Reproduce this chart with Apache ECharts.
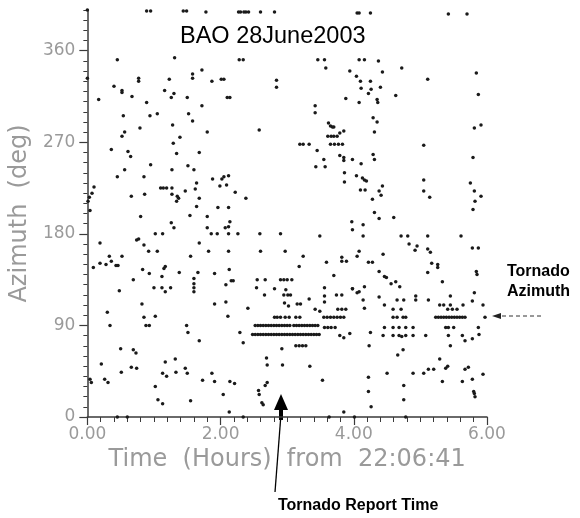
<!DOCTYPE html>
<html>
<head>
<meta charset="utf-8">
<script src="https://cdn.jsdelivr.net/npm/echarts@6/dist/echarts.min.js"></script>
<style>
html,body{margin:0;padding:0;background:#fff;}
#chart{width:580px;height:518px;}
</style>
</head>
<body>
<div id="chart"></div>
<script>
// ---- Data: [time (hours from 22:06:41), azimuth (deg)] ----
const topRow = [[0.0,400],[0.89,399],[0.95,399],[1.44,399],[1.49,399],[1.78,398],[2.27,398],[2.30,398],[2.35,398],[2.38,398],[2.42,398],[2.60,398],[2.81,398],[4.05,397],[4.08,397],[4.25,397],[5.42,396],[5.70,396]];

const earlyUpper = [[2.28,351],[2.34,351],[0.45,351],[1.31,353],[0.0,333],[0.77,333],[0.77,330],[1.23,332],[1.58,337],[1.58,333],
[1.72,341],[1.87,330],[2.01,332],[2.05,332],[2.84,331],[2.84,324],[0.40,325],[0.52,321],[0.52,319],[0.67,315],[1.16,321],[1.30,318],[1.26,314],[1.50,314],[2.10,314],[2.14,314],
[0.17,312],[0.89,309],[1.72,306],[0.54,296],[0.94,296],[1.05,298],[1.52,298],[1.58,291],[1.28,287],[0.79,284],[1.80,280],[0.52,276],[0.56,280],[2.58,282],
[1.29,269],[1.39,275],[0.36,263],[0.61,261],[0.65,256],[1.34,259],[1.68,260],[0.95,248],[1.51,247],[1.60,243],[1.27,243],[0.56,243],[0.45,236],[0.85,236],[1.88,234],[2.02,234],[2.05,236],[2.12,237],
[1.64,230],[1.99,227],[2.09,228],[0.10,226],[1.10,225],[1.14,225],[1.19,225],[1.27,225],[1.47,222],[1.62,224],[2.22,221],[0.03,216],[0.01,212],[0.07,220],[0.66,217],[0.86,219],[1.27,219],[1.35,217],[1.34,212],[1.37,215],[1.68,215],[2.38,215],
[0.04,203],[1.64,207],[1.96,206],[2.12,206],[0.80,197],[1.54,198],[1.80,197],[2.14,192],[2.12,187],[1.26,191],[1.30,186],[1.80,186],[2.07,186],[1.02,180],[1.13,180],[0.74,174],[0.77,175],[0.85,169],[0.19,171],[1.68,171],
[1.86,180],[1.95,180],[2.12,180],[2.26,180],[2.59,180],[2.90,180],[0.33,158],[0.52,158],[0.92,163],[1.05,163],[1.55,158],[1.82,163],[2.12,163],[2.60,163],[2.97,163]];

const earlyLower = [[0.09,147],[0.19,151],[0.28,150],[0.36,153],[0.43,149],[0.46,149],[0.48,124],[0.69,135],[0.83,145],[0.93,141],[1.12,138],[1.17,148],[1.15,146],[1.00,127],[1.12,127],[1.17,123],[1.25,127],[1.38,142],
[1.60,136],[1.60,131],[1.60,127],[1.60,123],[1.66,142],[1.91,141],[2.08,130],[2.13,145],[2.16,134],[2.19,134],[0.82,111],[0.30,103],[1.91,111],[2.08,113],[2.41,107],[0.85,98],[1.02,99],[0.88,90],[0.93,90],[0.34,90],[2.11,99],
[1.49,90],[1.51,83],[2.29,83],[1.68,75],[2.34,73],[0.50,67],[0.69,66],[0.73,63],[0.21,52],[0.51,44],[0.66,49],[0.74,48],[1.17,54],[1.13,43],[1.19,40],[1.32,57],[1.33,44],[1.47,48],[1.50,43],[1.87,43],[1.91,35],[1.73,36],
[2.14,35],[2.21,33],[0.04,37],[0.06,34],[0.26,37],[0.31,34],[1.02,30],[2.04,22],[1.06,17],[1.13,13],[1.55,16],[2.13,5],[0.45,0],[0.60,0],[2.34,0]];

const clusterMid = [[2.55,135],[2.67,135],[2.90,135],[2.95,135],[3.00,135],[3.07,135],[2.54,127],[2.66,120],[2.81,126],[2.98,125],[2.95,120],[3.01,120],[3.05,120],[2.96,112],[3.02,109],
[3.15,111],[3.20,111],[3.33,116],[3.42,106],[3.49,104],[3.56,127],[3.56,119],[3.56,113],[3.74,120],[3.82,120],[3.76,106],[3.82,106],[3.88,106],[3.98,126],
[2.81,98],[2.85,98],[2.90,98],[2.97,98],[3.03,98],[3.13,98],[3.19,98],[3.55,98],[3.60,98],[3.65,98],[3.70,98],[3.75,98],[3.80,98],[3.85,98],
[3.56,88],[3.61,88],[3.66,88],[3.72,88],[3.79,80],[3.85,78],[3.94,82],[3.13,70],[3.18,70],[3.23,70],[3.28,70],[2.92,67],[2.69,58],[2.70,51],[2.93,51],[2.67,31],[2.70,34],[2.57,26],[2.58,22],[2.62,14],[2.64,12]];

const band90 = [2.52,2.56,2.60,2.64,2.68,2.72,2.76,2.80,2.84,2.88,2.92,2.96,3.00,3.04,3.10,3.14,3.18,3.22,3.26,3.30,3.34,3.38,3.42,3.46];
const band81 = [2.48,2.52,2.56,2.60,2.64,2.68,2.72,2.76,2.80,2.84,2.88,2.92,2.96,3.00,3.04,3.08,3.12,3.16,3.20,3.24,3.28,3.32,3.36,3.40,3.44,3.48];
const band98late = [5.23,5.27,5.31,5.35,5.39,5.43,5.47,5.51,5.55,5.59,5.63,5.67];

const lateLower = [[3.18,148],[3.70,139],[3.59,152],[3.82,153],[3.89,153],[4.22,152],[4.28,152],[4.38,143],[4.46,138],[4.49,137],[4.56,131],[4.63,133],[4.69,128],[5.17,151],[5.26,150],[5.26,147],[5.11,142],[5.33,133],[5.84,143],[5.85,140],
[3.98,126],[4.05,122],[4.08,123],[4.16,128],[4.14,115],[4.38,118],[4.16,107],[4.46,110],[4.65,115],[4.75,115],[4.59,106],[4.71,106],[4.93,119],[4.93,115],[5.12,115],[5.45,119],[5.29,110],[5.35,110],[5.45,110],[5.41,106],[5.48,106],[5.55,106],
[5.81,122],[5.78,114],[5.94,110],[5.64,110],[4.59,98],[4.65,98],[4.74,98],[4.78,98],[4.46,88],[4.59,88],[4.68,88],[4.78,88],[4.89,88],[5.38,88],[5.42,88],[5.50,88],[5.87,88],
[4.25,83],[4.44,80],[4.59,80],[4.68,80],[4.72,79],[4.78,80],[4.89,80],[5.08,80],[5.42,80],[5.63,80],[5.67,75],[5.78,77],[5.88,81],[4.23,70],[4.74,66],[4.66,61],[5.45,70],[5.97,98],[6.02,99],
[3.34,50],[3.53,36],[4.22,39],[4.50,43],[4.75,31],[4.89,43],[5.05,43],[5.12,47],[5.20,47],[5.29,57],[5.38,48],[5.41,50],[5.33,35],[5.63,35],[5.67,47],[5.72,49],[5.78,37],[5.94,42],[5.80,25],[5.81,23],[5.82,20],
[4.22,25],[4.26,10],[4.75,17],[3.85,5],[3.63,0],[4.01,0],[4.78,0]];

const lateUpper = [[3.46,351],[3.56,351],[3.58,343],[4.08,351],[4.16,351],[4.37,350],[4.72,343],[5.84,338],[3.94,340],[4.04,335],[4.10,330],[4.25,330],[4.43,339],[4.11,323],[4.26,322],[4.40,324],[4.22,318],[4.63,316],[5.11,332],[5.87,317],
[3.88,313],[4.08,309],[4.35,312],[4.36,309],[3.42,306],[3.42,299],[4.29,294],[4.35,290],[4.31,280],[3.62,289],[3.65,286],[3.68,285],[3.70,285],[3.61,276],[3.66,276],[3.70,276],[3.75,276],[3.79,279],[3.85,281],
[3.19,268],[3.24,268],[3.33,268],[3.65,268],[3.71,268],[3.77,268],[3.83,268],[5.05,267],[3.45,262],[3.55,253],[3.43,246],[3.57,246],[3.79,257],[3.85,255],[3.85,252],[3.98,253],[4.11,249],[4.29,258],[4.31,253],
[3.86,240],[3.86,231],[4.04,237],[4.13,235],[4.16,233],[4.19,232],[4.10,223],[4.17,223],[4.38,222],[4.43,227],[4.41,218],[4.28,214],[5.05,233],[5.05,222],[5.14,216],[5.79,255],[5.75,230],[5.81,222],[5.91,217],[5.82,212],[5.79,204],[5.81,284],[5.91,287],
[4.31,201],[4.38,195],[4.60,196],[3.97,192],[3.98,184],[4.14,189],[4.14,178],[3.49,178],[4.71,178],[4.81,178],[5.11,178],[5.61,178],[4.83,170],[4.95,168],[4.92,164],[5.11,165],[5.15,162],[5.78,166],[5.87,166],[4.08,163],[4.05,158],[4.44,160],[3.82,157],[3.24,158]];

const xTicks = [0, 2, 4, 6];
const yTicks = [0, 90, 180, 270, 360];

const points = [].concat(topRow, earlyUpper, earlyLower, clusterMid, lateLower, lateUpper,
  band90.map(h => [h, 90]), band81.map(h => [h, 81]), band98late.map(h => [h, 98]));

const chart = echarts.init(document.getElementById('chart'), null, {renderer: 'canvas'});
const axisColor = '#3a3a3a';
const labelColor = '#9a9a9a';
chart.setOption({
  animation: false,
  backgroundColor: '#fff',
  grid: {left: 83, right: 93, top: 10, bottom: 101, containLabel: false},
  xAxis: {
    type: 'value', min: 0, max: 6, interval: 2,
    axisLine: {show: true, lineStyle: {color: axisColor, width: 1.5}},
    axisTick: {show: true, length: 8, lineStyle: {color: axisColor, width: 1.2}},
    minorTick: {show: true, splitNumber: 10, length: 5, lineStyle: {color: axisColor, width: 1}},
    splitLine: {show: false}, minorSplitLine: {show: false},
    axisLabel: {formatter: v => v.toFixed(2), color: labelColor, fontSize: 17, fontFamily: 'DejaVu Sans', margin: 9},
    name: 'Time  (Hours)  from  22:06:41', nameLocation: 'middle', nameGap: 25,
    nameTextStyle: {fontSize: 24, color: labelColor, fontFamily: 'DejaVu Sans'}
  },
  yAxis: [{
    type: 'value', min: 0, max: 400, interval: 90,
    axisLine: {show: true, lineStyle: {color: axisColor, width: 1.5}},
    axisTick: {show: true, length: 8, customValues: yTicks, lineStyle: {color: axisColor, width: 1.2}},
    splitLine: {show: false},
    axisLabel: {customValues: yTicks, color: labelColor, fontSize: 17, fontFamily: 'DejaVu Sans', margin: 12},
    name: 'Azimuth  (deg)', nameLocation: 'middle', nameGap: 40, nameRotate: 90,
    nameTextStyle: {fontSize: 24, color: labelColor, fontFamily: 'DejaVu Sans'}
  }, {
    type: 'value', min: 0, max: 400, interval: 10, position: 'left',
    axisLine: {show: false}, axisLabel: {show: false}, splitLine: {show: false},
    axisTick: {show: true, length: 4, lineStyle: {color: axisColor, width: 1}}
  }],
  series: [{
    type: 'scatter', data: points, yAxisIndex: 0,
    symbol: 'circle', symbolSize: 3.5,
    itemStyle: {color: '#1a1a1a', opacity: 1},
    silent: true
  }],
  graphic: [
    {type: 'text', style: {text: 'BAO 28June2003', x: 180, y: 37, verticalAlign: 'middle', align: 'left', font: '23.5px "Liberation Sans", Arial, sans-serif', fill: '#000'}},
    {type: 'text', style: {text: 'Tornado', x: 507, y: 272, verticalAlign: 'middle', align: 'left', font: 'bold 16px "Liberation Sans", Arial, sans-serif', fill: '#000'}},
    {type: 'text', style: {text: 'Azimuth', x: 507, y: 292, verticalAlign: 'middle', align: 'left', font: 'bold 16px "Liberation Sans", Arial, sans-serif', fill: '#000'}},
    {type: 'text', style: {text: 'Tornado Report Time', x: 278, y: 506, verticalAlign: 'middle', align: 'left', font: 'bold 16px "Liberation Sans", Arial, sans-serif', fill: '#000'}},
    // report-time arrow
    {type: 'polyline', shape: {points: [[275, 492], [281, 414]]}, style: {stroke: '#000', lineWidth: 1.3, fill: null}},
    {type: 'rect', shape: {x: 279, y: 406, width: 4, height: 14}, style: {fill: '#000'}},
    {type: 'polygon', shape: {points: [[274, 410], [288, 410], [281, 394]]}, style: {fill: '#000'}},
    // tornado azimuth dashed arrow
    {type: 'line', shape: {x1: 502, y1: 316, x2: 544, y2: 316}, style: {stroke: '#333', lineWidth: 1, lineDash: [4, 3]}},
    {type: 'polygon', shape: {points: [[492, 316], [501, 313], [501, 319]]}, style: {fill: '#222'}}
  ]
});
</script>
</body>
</html>
